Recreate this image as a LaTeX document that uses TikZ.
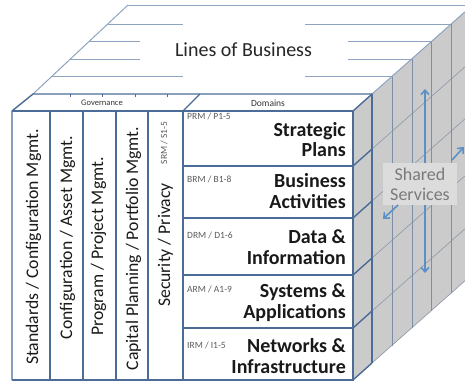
\documentclass[tikz,border=0pt]{standalone}
\usepackage{fontspec}
\setmainfont{Carlito}
\usetikzlibrary{arrows.meta}
\definecolor{edgec}{HTML}{4A6C96}
\definecolor{topc}{HTML}{8DA3BF}
\definecolor{facec}{HTML}{CBCBCB}
\definecolor{gridc}{HTML}{7D8FA6}
\definecolor{diagc}{HTML}{8C98A8}
\definecolor{arrc}{HTML}{5A8FC8}
\definecolor{lblc}{HTML}{5A5A5A}
\definecolor{ssfill}{HTML}{DCDCDC}
\definecolor{sstext}{HTML}{7A7A7A}
\begin{document}
\begin{tikzpicture}[x=1pt,y=-1pt,
  frontline/.style={draw=edgec,line width=1.4pt},
  topline/.style={draw=topc,line width=1pt},
  gridline/.style={draw=gridc,line width=0.9pt},
  diagline/.style={draw=diagc,line width=0.6pt},
  coltext/.style={rotate=90,anchor=base,inner sep=0pt,font=\fontsize{17.7}{20}\selectfont,text=black!90},
  bigtext/.style={anchor=base east,inner sep=0pt,font=\fontsize{20}{22}\selectfont\bfseries,text=black!90},
  smalltext/.style={anchor=base west,inner sep=0pt,font=\fontsize{9.5}{11}\selectfont,text=lblc},
  headtext/.style={inner sep=0pt,font=\fontsize{8.5}{10}\selectfont,text=black!80},
  sarrow/.style={draw=arrc,line width=1.6pt,-{Straight Barb[length=4.5pt,width=8pt]}}]
\useasboundingbox (0,0) rectangle (465,381);
\clip (0,0) rectangle (465,381);

% ---------- top face ----------
\draw[topline] (128,5) -- (465,5);
\draw[topline] (128,5) -- (33,94);
\draw[topline] (107.7,24) -- (183,24);
\draw[topline] (89,41.5) -- (140,41.5);
\draw[topline] (70.4,59) -- (140,59);
\draw[topline] (51.7,76.5) -- (183,76.5);
\draw[topline] (305,24) -- (451,24);
\draw[topline] (348,41.5) -- (431,41.5);
\draw[topline] (348,59) -- (412,59);
\draw[topline] (305,76.5) -- (392,76.5);
\node[inner sep=0pt,font=\fontsize{20}{24}\selectfont,text=black!85] (lob) at (243.5,50) {Lines of Business};

% ---------- right (grey) face ----------
\fill[facec] (353,111) -- (465,12) -- (465,281) -- (353,380) -- cycle;
\draw[topline] (372,94) -- (465,11.8);
\draw[diagline] (372,363) -- (465,280.8);
\foreach \c in {149,201,258,311}
  \draw[diagline] (372,\c) -- (465,\c-82.2);
\draw[gridline] (392,76.5) -- (392,345.5);
\draw[gridline] (412,58.8) -- (412,327.8);
\draw[gridline] (431,42) -- (431,311);
\draw[gridline] (451,24.4) -- (451,293.4);

% ---------- front: governance ----------
\draw[frontline] (12,380) -- (12,111) -- (33,94) -- (372,94);
\draw[frontline] (12,111) -- (183,111);
\draw[frontline] (12,380) -- (183,380);
\foreach \x in {50,83,116,148,183}
  \draw[frontline] (\x,111) -- (\x,380);
\foreach \x in {70,102,135,167}
  \draw[edgec,line width=1pt] (\x,94) -- (\x,97);
\node[headtext] (gov) at (102,103) {Governance};

\node[coltext] (c1) at (38,247) {Standards / Configuration Mgmt.};
\node[coltext] (c2) at (72,237.5) {Configuration / Asset Mgmt.};
\node[coltext] (c3) at (103,246.5) {Program / Project Mgmt.};
\node[coltext] (c4) at (138,248.5) {Capital Planning / Portfolio Mgmt.};
\node[coltext] (c5) at (170,245) {Security / Privacy};
\node[smalltext,rotate=90,anchor=base] (srm) at (167,143) {SRM / S1-5};

% ---------- front: domains ----------
\draw[frontline] (183,111) -- (200,94);
\draw[frontline] (183,111) -- (353,111) -- (353,380) -- (183,380);
\foreach \y in {166,218,275,328}
  \draw[frontline] (183,\y) -- (353,\y);
\foreach \y in {111,166,218,275,328,380}
  \draw[frontline] (353,\y) -- (372,\y-17);
\draw[frontline] (372,94) -- (372,363);
\node[headtext,font=\fontsize{9.5}{11}\selectfont] (dom) at (268,103) {Domains};

\node[smalltext] (prm) at (187,119) {PRM / P1-5};
\node[bigtext] (s1a) at (346,136) {Strategic};
\node[bigtext] (s1b) at (346,156) {Plans};
\node[smalltext] (brm) at (187,182) {BRM / B1-8};
\node[bigtext] (s2a) at (346,187) {Business};
\node[bigtext] (s2b) at (346,208) {Activities};
\node[smalltext] (drm) at (187,238) {DRM / D1-6};
\node[bigtext] (s3a) at (346,243) {Data \&};
\node[bigtext] (s3b) at (346,264) {Information};
\node[smalltext] (arm) at (187,292) {ARM / A1-9};
\node[bigtext] (s4a) at (346,297) {Systems \&};
\node[bigtext] (s4b) at (346,318) {Applications};
\node[smalltext] (irm) at (187,348) {IRM / I1-5};
\node[bigtext] (s5a) at (346,352) {Networks \&};
\node[bigtext] (s5b) at (346,373) {Infrastructure};

% ---------- shared services ----------
\node[fill=ssfill,inner sep=0pt,minimum width=74pt,minimum height=42pt,align=center,
      font=\fontsize{18}{20}\selectfont,text=sstext] (ss) at (420,184) {Shared\\Services};
\coordinate (upTip) at (425,89);
\coordinate (dnTip) at (425,273);
\coordinate (urTail) at (452,160);
\coordinate (urTip) at (464,147);
\coordinate (dlTail) at (398,205);
\coordinate (dlTip) at (383,219);
\draw[sarrow] (ss.north -| upTip) -- (upTip);
\draw[sarrow] (ss.south -| dnTip) -- (dnTip);
\draw[sarrow] (urTail) -- (urTip);
\draw[sarrow] (dlTail) -- (dlTip);
\end{tikzpicture}
\end{document}
